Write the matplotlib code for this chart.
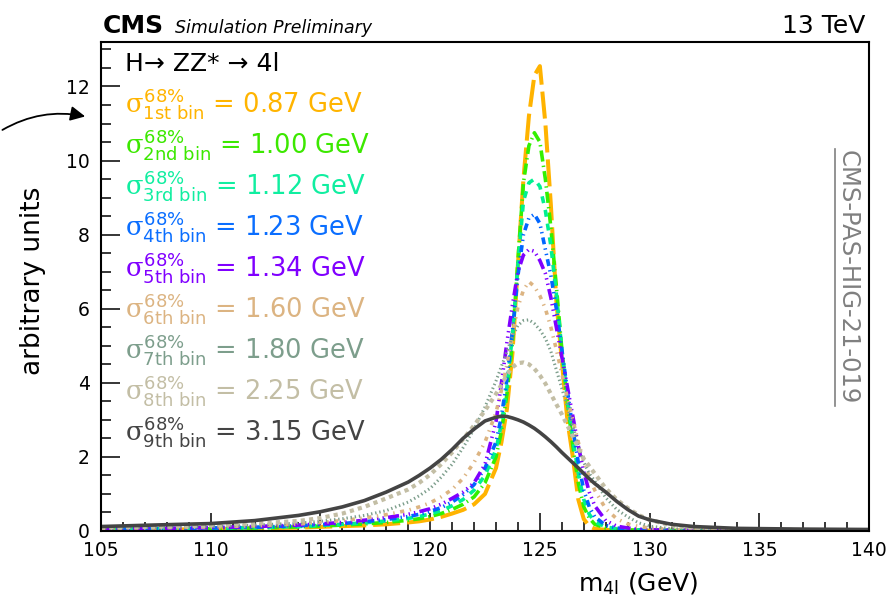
import matplotlib
matplotlib.use('Agg')
import matplotlib.pyplot as plt
from matplotlib.ticker import MultipleLocator

m4l = [105, 108, 110, 112, 114, 115, 116, 117, 118, 119,
       119.5, 120, 120.5, 121, 121.5, 122, 122.5, 123, 123.25, 123.5,
       123.75, 124, 124.25, 124.5, 124.75, 125, 125.25, 125.5, 125.75, 126,
       126.25, 126.5, 126.75, 127, 127.25, 127.5, 128, 128.5, 129, 129.5,
       130, 131, 132, 134, 137, 140]

y_bin1 = [0.03, 0.04, 0.05, 0.07, 0.09, 0.11, 0.13, 0.15, 0.18, 0.23,
          0.26, 0.31, 0.38, 0.47, 0.57, 0.72, 1.0, 1.7, 2.4, 3.3,
          4.8, 7.2, 9.5, 11.2, 12.3, 12.55, 11.0, 8.8, 6.2, 4.6,
          3.0, 2.0, 0.85, 0.32, 0.13, 0.06, 0.03, 0.02, 0.015, 0.01,
          0.01, 0.008, 0.006, 0.005, 0.004, 0.004]
y_bin2 = [0.04, 0.05, 0.06, 0.08, 0.11, 0.13, 0.16, 0.19, 0.23, 0.29,
          0.33, 0.39, 0.47, 0.58, 0.72, 0.92, 1.3, 2.0, 2.7, 3.7,
          5.1, 7.3, 9.4, 10.4, 10.75, 10.5, 9.5, 8.2, 6.6, 4.9,
          3.5, 2.3, 1.3, 0.65, 0.35, 0.18, 0.08, 0.05, 0.03, 0.02,
          0.015, 0.01, 0.008, 0.006, 0.005, 0.004]
y_bin3 = [0.05, 0.06, 0.07, 0.09, 0.12, 0.15, 0.18, 0.22, 0.27, 0.34,
          0.39, 0.46, 0.55, 0.68, 0.85, 1.1, 1.5, 2.2, 2.9, 3.9,
          5.3, 7.2, 8.9, 9.4, 9.5, 9.3, 8.65, 7.7, 6.4, 4.9,
          3.6, 2.5, 1.55, 0.85, 0.45, 0.25, 0.11, 0.06, 0.04, 0.03,
          0.02, 0.012, 0.01, 0.008, 0.006, 0.005]
y_bin4 = [0.05, 0.06, 0.08, 0.1, 0.14, 0.17, 0.2, 0.25, 0.31, 0.39,
          0.45, 0.53, 0.63, 0.78, 0.98, 1.25, 1.7, 2.4, 3.1, 4.1,
          5.4, 6.9, 8.0, 8.45, 8.55, 8.3, 7.6, 6.9, 6.0, 4.9,
          3.8, 2.75, 1.85, 1.1, 0.65, 0.38, 0.15, 0.08, 0.05, 0.035,
          0.025, 0.015, 0.012, 0.009, 0.007, 0.006]
y_bin5 = [0.06, 0.07, 0.09, 0.12, 0.16, 0.19, 0.23, 0.29, 0.36, 0.45,
          0.52, 0.6, 0.72, 0.88, 1.05, 1.3, 1.8, 2.95, 4.0, 5.1,
          6.1, 7.0, 7.45, 7.6, 7.55, 7.3, 6.95, 6.3, 5.5, 4.7,
          3.9, 3.1, 2.3, 1.6, 1.05, 0.68, 0.28, 0.13, 0.08, 0.05,
          0.035, 0.02, 0.015, 0.01, 0.008, 0.007]
y_bin6 = [0.07, 0.09, 0.11, 0.14, 0.19, 0.23, 0.28, 0.35, 0.44, 0.56,
          0.65, 0.76, 0.92, 1.12, 1.42, 1.85, 2.4, 3.2, 3.8, 4.5,
          5.3, 6.05, 6.5, 6.73, 6.6, 6.35, 6.0, 5.5, 4.9, 4.25,
          3.6, 3.0, 2.4, 1.9, 1.45, 1.1, 0.6, 0.33, 0.19, 0.12,
          0.08, 0.04, 0.025, 0.015, 0.01, 0.008]
y_bin7 = [0.08, 0.1, 0.12, 0.16, 0.21, 0.26, 0.33, 0.42, 0.55, 0.78,
          0.95, 1.15, 1.45, 1.8, 2.25, 2.75, 3.35, 4.05, 4.45, 4.85,
          5.25, 5.55, 5.68, 5.7, 5.6, 5.43, 5.2, 4.85, 4.35, 3.85,
          3.35, 2.85, 2.3, 1.85, 1.55, 1.35, 0.9, 0.58, 0.38, 0.22,
          0.13, 0.06, 0.035, 0.02, 0.012, 0.01]
y_bin8 = [0.09, 0.12, 0.15, 0.2, 0.27, 0.35, 0.47, 0.65, 0.88, 1.12,
          1.3, 1.52, 1.8, 2.12, 2.48, 2.85, 3.25, 3.7, 3.95, 4.22,
          4.42, 4.53, 4.55, 4.5, 4.38, 4.2, 3.98, 3.7, 3.42, 3.15,
          2.85, 2.55, 2.25, 1.95, 1.75, 1.55, 1.15, 0.85, 0.62, 0.43,
          0.3, 0.15, 0.08, 0.04, 0.025, 0.02]
y_bin9 = [0.12, 0.17, 0.2, 0.28, 0.42, 0.52, 0.65, 0.82, 1.05, 1.32,
          1.5, 1.7, 1.93, 2.2, 2.5, 2.75, 2.97, 3.07, 3.1, 3.09,
          3.05, 3.0, 2.94, 2.86, 2.77, 2.66, 2.54, 2.41, 2.27, 2.12,
          1.98, 1.84, 1.7, 1.55, 1.41, 1.28, 1.05, 0.8, 0.58, 0.4,
          0.3, 0.18, 0.12, 0.07, 0.05, 0.04]

bin_names = ['1st', '2nd', '3rd', '4th', '5th', '6th', '7th', '8th', '9th']
sigma68 = ['0.87', '1.00', '1.12', '1.23', '1.34', '1.60', '1.80', '2.25', '3.15']

line_colors = ['#ffb300', '#33f000', '#00f090', '#0066ff', '#7f00ff',
               '#dcb482', '#7d9e8c', '#c3bea5', '#444444']
text_colors = ['#ffb400', '#3ce800', '#10eea0', '#0a6eff', '#8000ff',
               '#dcb482', '#7d9e8c', '#c3bea5', '#444444']
# ROOT-like dash patterns (points)
dash_styles = [(19.5, 5), (8, 3, 1, 3), (5, 5), (5, 3, 1, 3, 1, 3),
               (8, 3, 1, 3, 1, 3, 1, 3), (3, 4, 1, 4), (1, 2), (3, 3), None]
line_widths = [2.9, 2.6, 2.6, 2.6, 2.6, 2.6, 2.2, 3.0, 2.6]

plt.rcParams['font.family'] = ['DejaVu Sans']
plt.rcParams['mathtext.fontset'] = 'custom'
plt.rcParams['mathtext.rm'] = 'DejaVu Sans'
plt.rcParams['mathtext.it'] = 'DejaVu Serif'
plt.rcParams['lines.scale_dashes'] = False

fig = plt.figure(figsize=(8.88, 5.97), dpi=100)
ax = fig.add_axes([0.1137, 0.1106, 0.865, 0.819])

curves = [y_bin1, y_bin2, y_bin3, y_bin4, y_bin5, y_bin6, y_bin7, y_bin8, y_bin9]
for i in range(len(curves)):
    if dash_styles[i] is None:
        ax.plot(m4l, curves[i], color=line_colors[i], lw=line_widths[i])
    else:
        ax.plot(m4l, curves[i], color=line_colors[i], lw=line_widths[i],
                linestyle=(0, dash_styles[i]), dash_capstyle='butt')

ax.set_xlim(105, 140)
ax.set_ylim(0, 13.2)
ax.xaxis.set_major_locator(MultipleLocator(5))
ax.xaxis.set_minor_locator(MultipleLocator(1))
ax.yaxis.set_major_locator(MultipleLocator(2))
ax.yaxis.set_minor_locator(MultipleLocator(0.5))
ax.tick_params(which='both', direction='in', top=False, right=False,
               width=1.1, labelsize=13.5)
ax.tick_params(axis='x', which='major', length=13, pad=7)
ax.tick_params(axis='x', which='minor', length=6.5)
ax.tick_params(axis='y', which='major', length=14, pad=8)
ax.tick_params(axis='y', which='minor', length=7)
for s in ax.spines.values():
    s.set_linewidth(1.5)

ax.text(0.7, -0.08, r'm$_{\mathrm{4l}}$ (GeV)', transform=ax.transAxes,
        ha='center', va='top', fontsize=18)
fig.text(0.037, 0.53, 'arbitrary units', rotation=90, ha='center', va='center',
         fontsize=19)

# header
fig.text(0.116, 0.945, 'CMS', fontsize=18, fontweight='bold', va='baseline')
fig.text(0.197, 0.945, 'Simulation Preliminary', fontsize=12.5, style='italic',
         va='baseline')
fig.text(0.975, 0.945, '13 TeV', fontsize=18, ha='right', va='baseline')

# legend block
ax.text(0.031, 0.94, 'H\u2192 ZZ* \u2192 4l', transform=ax.transAxes,
        fontsize=18, va='baseline')
for i in range(len(bin_names)):
    y = (531 - (113 + 41 * i)) / 489
    label = r'$\sigma^{\mathrm{68\%}}_{\mathrm{' + bin_names[i] + r'\ bin}}$ = ' + sigma68[i] + ' GeV'
    ax.text(0.031, y, label, transform=ax.transAxes, fontsize=18.5,
            color=text_colors[i], va='baseline')

# document tag on the right
fig.text(0.955, 0.535, 'CMS-PAS-HIG-21-019', rotation=270, ha='center',
         va='center', fontsize=17.5, color='#808080')
fig.add_artist(plt.Line2D([0.9405, 0.9405], [0.32, 0.75], color='#808080', lw=1.2))

# arrow from outside pointing at the first legend entry
ax.annotate('', xy=(0.099, 0.804), xycoords='figure fraction',
            xytext=(0.0, 0.78), textcoords='figure fraction',
            arrowprops=dict(arrowstyle='-|>', color='black', lw=1.3,
                            mutation_scale=22,
                            connectionstyle='arc3,rad=-0.2'))

fig.savefig('out.png', dpi=100)
